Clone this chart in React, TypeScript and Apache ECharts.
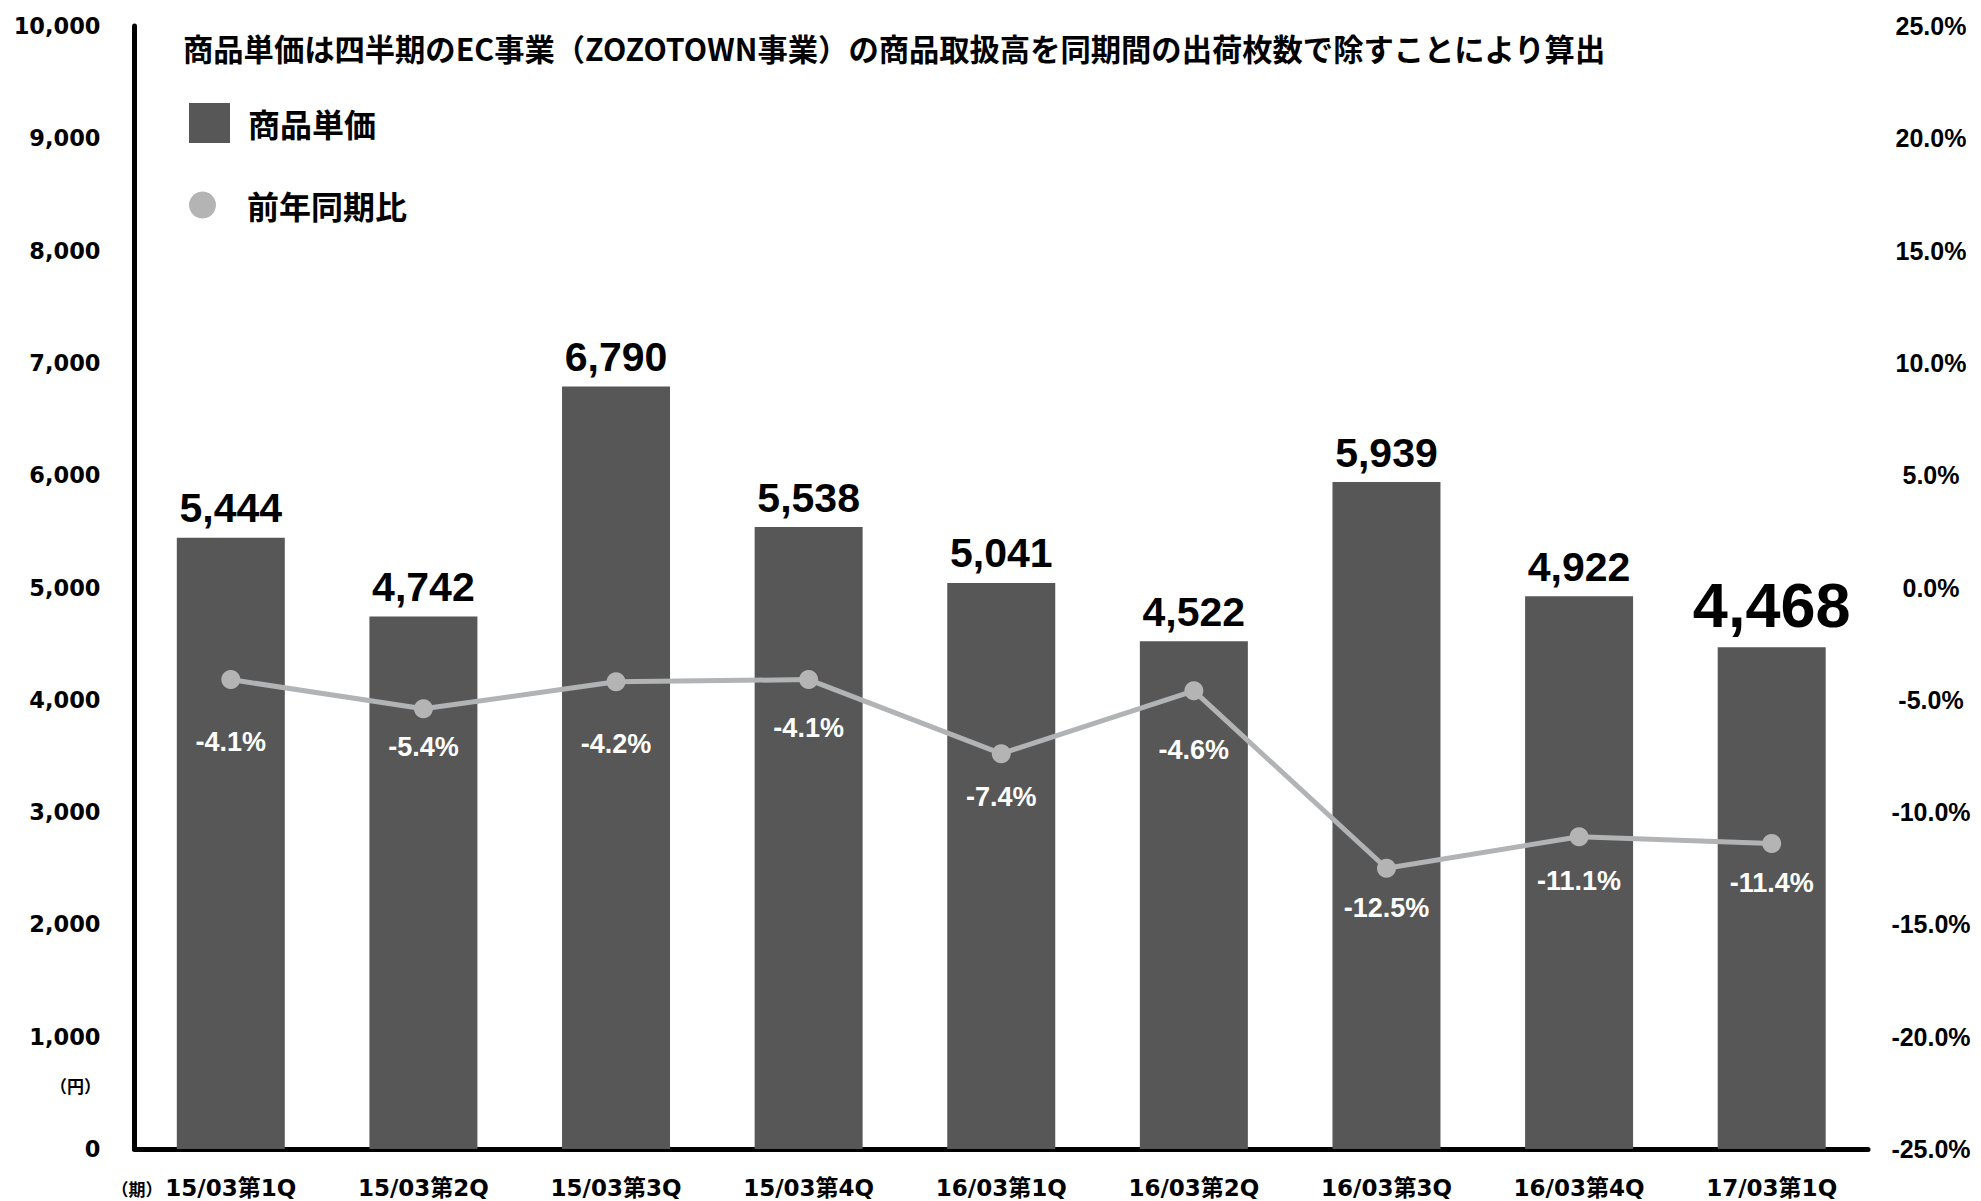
import React, { useEffect, useRef } from "react";
import * as echarts from "echarts";

const categories = [
  "15/03第1Q",
  "15/03第2Q",
  "15/03第3Q",
  "15/03第4Q",
  "16/03第1Q",
  "16/03第2Q",
  "16/03第3Q",
  "16/03第4Q",
  "17/03第1Q",
];
const unitPrice = [5444, 4742, 6790, 5538, 5041, 4522, 5939, 4922, 4468];
const yoyRate = [-4.1, -5.4, -4.2, -4.1, -7.4, -4.6, -12.5, -11.1, -11.4];

const barName = "商品単価";
const lineName = "前年同期比";
const titleText =
  "商品単価は四半期のEC事業（ZOZOTOWN事業）の商品取扱高を同期間の出荷枚数で除すことにより算出";
const yUnitText = "（円）";
const xUnitText = "（期）";

const leftMin = 0;
const leftMax = 10000;
const leftInterval = 1000;
const rightMin = -25;
const rightMax = 25;
const rightInterval = 5;

// layout: gaps between each rate point and its label (style only)
const rateLabelGaps = [39, 15, 39, 25, 20, 36, 17, 21, 16];

const LAT = "'Liberation Sans', Arial, 'Noto Sans CJK JP', sans-serif";
const DJV = "'DejaVu Sans', 'Noto Sans CJK JP', sans-serif";
const JP = "'Noto Sans CJK JP', sans-serif";

export default function App() {
  const ref = useRef<HTMLDivElement>(null);

  useEffect(() => {
    if (!ref.current) return;
    const chart = echarts.init(ref.current, undefined, { renderer: "svg" });

    const barData = unitPrice.map((v, i) =>
      i === unitPrice.length - 1
        ? { value: v, label: { fontSize: 63, distance: 11 } }
        : { value: v }
    );
    const lineData = yoyRate.map((v, i) => ({
      value: v,
      label: { distance: rateLabelGaps[i] },
    }));

    const legendText = (padLeft: number) => ({
      fontSize: 32,
      fontWeight: "bold" as const,
      fontFamily: JP,
      color: "#000",
      padding: [0, 0, 0, padLeft],
    });

    chart.setOption({
      animation: false,
      backgroundColor: "#fff",
      grid: { left: 134.5, right: 113, top: 26, bottom: 52, containLabel: false },
      legend: [
        {
          data: [{ name: barName, icon: "rect" }],
          left: 184,
          top: 98,
          itemWidth: 41,
          itemHeight: 40,
          selectedMode: false,
          textStyle: legendText(13),
        },
        {
          data: [{ name: lineName, icon: "circle" }],
          left: 184,
          top: 184,
          itemWidth: 41,
          itemHeight: 27,
          selectedMode: false,
          textStyle: legendText(19),
        },
      ],
      xAxis: {
        type: "category",
        data: categories,
        axisLine: { show: true, lineStyle: { color: "#000", width: 5 } },
        axisTick: { show: false },
        axisLabel: {
          interval: 0,
          margin: 27,
          fontSize: 23,
          fontWeight: "bold",
          fontFamily: DJV,
          color: "#000",
        },
      },
      yAxis: [
        {
          type: "value",
          position: "left",
          min: leftMin,
          max: leftMax,
          interval: leftInterval,
          axisLine: { show: true, lineStyle: { color: "#000", width: 5 } },
          axisTick: { show: false },
          splitLine: { show: false },
          axisLabel: {
            margin: 34,
            fontSize: 22.5,
            fontWeight: "bold",
            fontFamily: DJV,
            color: "#000",
            formatter: (v: number) => v.toLocaleString("en-US"),
          },
        },
        {
          type: "value",
          position: "right",
          min: rightMin,
          max: rightMax,
          interval: rightInterval,
          axisLine: { show: false },
          axisTick: { show: false },
          splitLine: { show: false },
          axisLabel: {
            margin: 63,
            align: "center",
            fontSize: 25,
            fontWeight: "bold",
            fontFamily: LAT,
            color: "#000",
            formatter: (v: number) => v.toFixed(1) + "%",
          },
        },
      ],
      series: [
        {
          name: barName,
          type: "bar",
          yAxisIndex: 0,
          barWidth: 108,
          data: barData,
          itemStyle: { color: "#575757" },
          label: {
            show: true,
            position: "top",
            distance: 9,
            fontSize: 41,
            fontWeight: "bold",
            fontFamily: LAT,
            color: "#000",
            formatter: (p: any) => Number(p.value).toLocaleString("en-US"),
          },
        },
        {
          name: lineName,
          type: "line",
          yAxisIndex: 1,
          data: lineData,
          symbol: "circle",
          symbolSize: 19,
          z: 5,
          lineStyle: { color: "#b1b3b5", width: 5 },
          itemStyle: { color: "#b4b4b4" },
          label: {
            show: true,
            position: "bottom",
            fontSize: 27,
            fontWeight: "bold",
            fontFamily: LAT,
            color: "#fff",
            formatter: (p: any) => Number(p.value).toFixed(1) + "%",
          },
        },
      ],
      graphic: [
        {
          type: "text",
          x: 183,
          y: 48,
          style: {
            text: titleText,
            fontSize: 30.3,
            fontWeight: "bold",
            fontFamily: JP,
            fill: "#000",
            align: "left",
            verticalAlign: "middle",
          },
        },
        {
          type: "text",
          x: 101,
          y: 1085,
          style: {
            text: yUnitText,
            fontSize: 17,
            fontWeight: "bold",
            fontFamily: JP,
            fill: "#000",
            align: "right",
            verticalAlign: "middle",
          },
        },
        {
          type: "text",
          x: 137,
          y: 1188,
          style: {
            text: xUnitText,
            fontSize: 17,
            fontWeight: "bold",
            fontFamily: JP,
            fill: "#000",
            align: "center",
            verticalAlign: "middle",
          },
        },
      ],
    });

    return () => chart.dispose();
  }, []);

  return (
    <div
      ref={ref}
      style={{ position: "fixed", left: 0, top: 0, width: 1981, height: 1201 }}
    />
  );
}
